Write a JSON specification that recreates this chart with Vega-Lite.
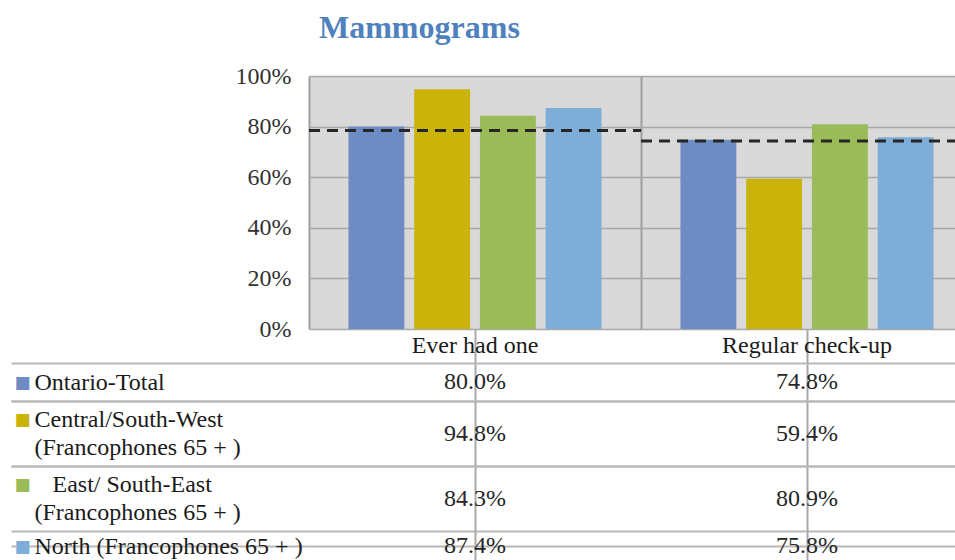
{
  "$schema": "https://vega.github.io/schema/vega-lite/v6.json",
  "padding": {"left": 10, "top": 12, "right": 0, "bottom": 0},
  "spacing": 0,
  "bounds": "flush",
  "resolve": {"scale": {"x": "independent", "y": "independent", "color": "independent"}},
  "config": {
    "view": {"stroke": null},
    "font": "Liberation Serif"
  },
  "data": {
    "values": [
      {"region": "Ontario-Total", "measure": "Ever had one", "value": 0.800},
      {"region": "Ontario-Total", "measure": "Regular check-up", "value": 0.748},
      {"region": "Central/South-West (Francophones 65 + )", "measure": "Ever had one", "value": 0.948},
      {"region": "Central/South-West (Francophones 65 + )", "measure": "Regular check-up", "value": 0.594},
      {"region": "East/ South-East (Francophones 65 + )", "measure": "Ever had one", "value": 0.843},
      {"region": "East/ South-East (Francophones 65 + )", "measure": "Regular check-up", "value": 0.809},
      {"region": "North (Francophones 65 + )", "measure": "Ever had one", "value": 0.874},
      {"region": "North (Francophones 65 + )", "measure": "Regular check-up", "value": 0.758}
    ]
  },
  "vconcat": [
    {
      "width": 647,
      "height": 253,
      "view": {"fill": "#d9d9d9", "stroke": null},
      "title": {"text": "Mammograms", "anchor": "start", "frame": "group", "dx": 10, "offset": 19, "font": "Liberation Serif", "fontSize": 32, "fontWeight": "bold", "color": "#4f81bd"},
      "layer": [
        {
          "mark": {"type": "bar"},
          "encoding": {
            "x": {"field": "measure", "type": "nominal", "sort": ["Ever had one", "Regular check-up"], "scale": {"paddingInner": 0, "paddingOuter": 0, "range": [0, 664]},
              "axis": {"labels": false, "ticks": false, "domain": false, "grid": true, "bandPosition": 0, "gridColor": "#9e9e9e", "gridWidth": 2, "title": null}},
            "xOffset": {"field": "region", "type": "nominal", "sort": ["Ontario-Total", "Central/South-West (Francophones 65 + )", "East/ South-East (Francophones 65 + )", "North (Francophones 65 + )"], "scale": {"paddingInner": 0.15, "paddingOuter": 0.6}},
            "y": {"field": "value", "type": "quantitative", "scale": {"domain": [0, 1], "nice": false},
              "axis": {"values": [0, 0.2, 0.4, 0.6, 0.8, 1], "format": ".0%", "domain": false, "ticks": false, "labelPadding": 18, "labelFont": "Liberation Serif", "labelFontSize": 24, "labelColor": "#333333", "gridColor": "#a8a8a8", "gridWidth": 1.5, "title": null}},
            "color": {"field": "region", "type": "nominal", "legend": null,
              "scale": {"domain": ["Ontario-Total", "Central/South-West (Francophones 65 + )", "East/ South-East (Francophones 65 + )", "North (Francophones 65 + )"], "range": ["#6e8cc4", "#cbb40a", "#9bbb59", "#7eadd8"]}}
          }
        },
        {
          "data": {"values": [
            {"measure": "Ever had one", "ref": 0.785},
            {"measure": "Regular check-up", "ref": 0.743}
          ]},
          "mark": {"type": "rule", "strokeDash": [11, 7], "strokeWidth": 3, "color": "#262626", "clip": true},
          "encoding": {
            "x": {"field": "measure", "type": "nominal", "bandPosition": 0},
            "x2": {"field": "measure", "bandPosition": 1},
            "y": {"field": "ref", "type": "quantitative"}
          }
        }
      ]
    },
    {
      "width": 647,
      "height": 34,
      "transform": [{"filter": "datum.region === 'Ontario-Total'"}],
      "mark": {"type": "text", "font": "Liberation Serif", "fontSize": 24, "color": "#1a1a1a"},
      "encoding": {
        "x": {"field": "measure", "type": "nominal", "scale": {"paddingInner": 0, "paddingOuter": 0, "range": [0, 664]},
          "axis": {"labels": false, "ticks": false, "domain": false, "grid": true, "bandPosition": 0, "gridColor": "#a8a8a8", "gridWidth": 2, "title": null}},
        "text": {"field": "measure", "type": "nominal"}
      }
    },
    {
      "width": 647,
      "height": 38,
      "transform": [{"filter": "datum.region === 'Ontario-Total'"}],
      "mark": {"type": "text", "font": "Liberation Serif", "fontSize": 24, "color": "#262626"},
      "encoding": {
        "x": {"field": "measure", "type": "nominal", "scale": {"paddingInner": 0, "paddingOuter": 0, "range": [0, 664]},
          "axis": {"labels": false, "ticks": false, "domain": false, "grid": true, "bandPosition": 0, "gridColor": "#a8a8a8", "gridWidth": 2, "title": null}},
        "y": {"field": "region", "type": "nominal", "scale": {"paddingInner": 0, "paddingOuter": 0},
          "axis": {"domain": false, "tickBand": "extent", "tickSize": 298, "tickColor": "#b8b8b8", "tickWidth": 2, "grid": true, "gridColor": "#b8b8b8", "gridWidth": 2,
            "labelAlign": "left", "labelPadding": -23, "labelFont": "Liberation Serif", "labelFontSize": 24, "labelColor": "#1a1a1a", "labelLimit": 400,
            "title": "■", "titleColor": "#6e8cc4", "titleAngle": 0, "titleX": -295, "titleY": 19, "titleAlign": "left", "titleBaseline": "middle", "titleFont": "DejaVu Sans", "titleFontSize": 17, "titleFontWeight": "normal"}},
        "text": {"field": "value", "type": "quantitative", "format": ".1%"}
      }
    },
    {
      "width": 647,
      "height": 65,
      "transform": [{"filter": "datum.region === 'Central/South-West (Francophones 65 + )'"}],
      "mark": {"type": "text", "font": "Liberation Serif", "fontSize": 24, "color": "#262626"},
      "encoding": {
        "x": {"field": "measure", "type": "nominal", "scale": {"paddingInner": 0, "paddingOuter": 0, "range": [0, 664]},
          "axis": {"labels": false, "ticks": false, "domain": false, "grid": true, "bandPosition": 0, "gridColor": "#a8a8a8", "gridWidth": 2, "title": null}},
        "y": {"field": "region", "type": "nominal", "scale": {"paddingInner": 0, "paddingOuter": 0},
          "axis": {"domain": false, "tickBand": "extent", "tickSize": 298, "tickColor": "#b8b8b8", "tickWidth": 2, "grid": true, "gridColor": "#b8b8b8", "gridWidth": 2,
            "labelAlign": "left", "labelPadding": -23, "labelOffset": -14, "labelFont": "Liberation Serif", "labelFontSize": 24, "labelColor": "#1a1a1a", "labelLimit": 400, "labelLineHeight": 28,
            "labelExpr": "[slice(datum.label, 0, indexof(datum.label, ' (')), slice(datum.label, indexof(datum.label, ' (') + 1)]",
            "title": "■", "titleColor": "#cbb40a", "titleAngle": 0, "titleX": -295, "titleY": 18, "titleAlign": "left", "titleBaseline": "middle", "titleFont": "DejaVu Sans", "titleFontSize": 17, "titleFontWeight": "normal"}},
        "text": {"field": "value", "type": "quantitative", "format": ".1%"}
      }
    },
    {
      "width": 647,
      "height": 65,
      "transform": [{"filter": "datum.region === 'East/ South-East (Francophones 65 + )'"}],
      "mark": {"type": "text", "font": "Liberation Serif", "fontSize": 24, "color": "#262626"},
      "encoding": {
        "x": {"field": "measure", "type": "nominal", "scale": {"paddingInner": 0, "paddingOuter": 0, "range": [0, 664]},
          "axis": {"labels": false, "ticks": false, "domain": false, "grid": true, "bandPosition": 0, "gridColor": "#a8a8a8", "gridWidth": 2, "title": null}},
        "y": {"field": "region", "type": "nominal", "scale": {"paddingInner": 0, "paddingOuter": 0},
          "axis": {"domain": false, "tickBand": "extent", "tickSize": 298, "tickColor": "#b8b8b8", "tickWidth": 2, "grid": true, "gridColor": "#b8b8b8", "gridWidth": 2,
            "labelAlign": "left", "labelPadding": -23, "labelOffset": -14, "labelFont": "Liberation Serif", "labelFontSize": 24, "labelColor": "#1a1a1a", "labelLimit": 400, "labelLineHeight": 28,
            "labelExpr": "['\\u200b\\u2002\\u00a0' + slice(datum.label, 0, indexof(datum.label, ' (')), slice(datum.label, indexof(datum.label, ' (') + 1)]",
            "title": "■", "titleColor": "#9bbb59", "titleAngle": 0, "titleX": -295, "titleY": 18, "titleAlign": "left", "titleBaseline": "middle", "titleFont": "DejaVu Sans", "titleFontSize": 17, "titleFontWeight": "normal"}},
        "text": {"field": "value", "type": "quantitative", "format": ".1%"}
      }
    },
    {
      "width": 647,
      "height": 30,
      "transform": [{"filter": "datum.region === 'North (Francophones 65 + )'"}],
      "mark": {"type": "text", "font": "Liberation Serif", "fontSize": 24, "color": "#262626"},
      "encoding": {
        "x": {"field": "measure", "type": "nominal", "scale": {"paddingInner": 0, "paddingOuter": 0, "range": [0, 664]},
          "axis": {"labels": false, "ticks": false, "domain": false, "grid": true, "bandPosition": 0, "gridColor": "#a8a8a8", "gridWidth": 2, "title": null}},
        "y": {"field": "region", "type": "nominal", "scale": {"paddingInner": 0, "paddingOuter": 0},
          "axis": {"domain": false, "bandPosition": 0, "tickSize": 298, "tickColor": "#b8b8b8", "tickWidth": 2, "grid": true, "gridColor": "#b8b8b8", "gridWidth": 2,
            "labelAlign": "left", "labelPadding": -23, "labelFont": "Liberation Serif", "labelFontSize": 24, "labelColor": "#1a1a1a", "labelLimit": 400,
            "title": "■", "titleColor": "#7eadd8", "titleAngle": 0, "titleX": -295, "titleY": 15, "titleAlign": "left", "titleBaseline": "middle", "titleFont": "DejaVu Sans", "titleFontSize": 17, "titleFontWeight": "normal"}},
        "text": {"field": "value", "type": "quantitative", "format": ".1%"}
      }
    }
  ]
}
